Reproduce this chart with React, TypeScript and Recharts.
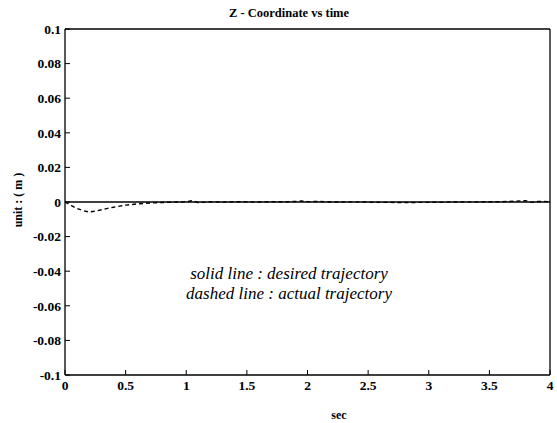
import React from 'react';
import { LineChart, Line, XAxis, YAxis } from 'recharts';

const times = [0, 0.05, 0.1, 0.15, 0.2, 0.25, 0.3, 0.35, 0.4, 0.45, 0.5, 0.6, 0.7, 0.8, 0.9, 1.0, 1.05, 1.1, 1.2, 1.3, 1.4, 1.5, 1.6, 1.7, 1.8, 1.9, 1.95, 2.0, 2.1, 2.2, 2.4, 2.6, 2.8, 3.0, 3.2, 3.4, 3.6, 3.7, 3.8, 3.85, 3.9, 4.0];
const desired = [0, 0, 0, 0, 0, 0, 0, 0, 0, 0, 0, 0, 0, 0, 0, 0, 0, 0, 0, 0, 0, 0, 0, 0, 0, 0, 0, 0, 0, 0, 0, 0, 0, 0, 0, 0, 0, 0, 0, 0, 0, 0];
const actual = [0, -0.002, -0.0038, -0.005, -0.0058, -0.0053, -0.0045, -0.0037, -0.003, -0.0024, -0.0018, -0.0011, -0.0006, -0.0003, -0.0001, 0.0001, 0.0008, -0.0004, 0.0002, -0.0001, 0.0002, 0.0001, 0.0, 0.0002, 0.0001, 0.0003, 0.0006, 0.0002, 0.0003, 0.0, 0.0001, -0.0002, -0.0003, -0.0002, 0.0, 0.0001, 0.0002, 0.0004, 0.0008, -0.0002, 0.0003, 0.0002];

const xTicks = [0, 0.5, 1, 1.5, 2, 2.5, 3, 3.5, 4];
const yTicks = [-0.1, -0.08, -0.06, -0.04, -0.02, 0, 0.02, 0.04, 0.06, 0.08, 0.1];

const title = 'Z - Coordinate vs time';
const xLabel = 'sec';
const yLabel = 'unit : ( m )';
const note1 = 'solid line : desired trajectory';
const note2 = 'dashed line : actual trajectory';

const data = times.map((t, i) => ({ t, desired: desired[i], actual: actual[i] }));

const FONT = 'Liberation Serif, Times New Roman, Times, serif';
const tickStyle = { fontFamily: FONT, fontSize: 13.5, fontWeight: 700, fill: '#000' };

export default function App() {
  return (
    <div style={{ position: 'absolute', left: 0, top: 0, width: 557, height: 423, background: '#fff', fontFamily: FONT }}>
      <LineChart width={557} height={423} data={data} margin={{ top: 28, right: 6, bottom: 0, left: 0 }} style={{ fontFamily: FONT }}>
        <XAxis
          xAxisId="b"
          dataKey="t"
          type="number"
          domain={[0, 4]}
          ticks={xTicks}
          height={48}
          tickSize={-5}
          tickMargin={10}
          tick={tickStyle}
          axisLine={{ stroke: '#000', strokeWidth: 1.3 }}
          tickLine={{ stroke: '#000' }}
          allowDataOverflow
        />
        <XAxis
          xAxisId="t"
          orientation="top"
          dataKey="t"
          type="number"
          domain={[0, 4]}
          ticks={xTicks}
          height={1}
          tickSize={-5}
          tick={false}
          axisLine={{ stroke: '#000', strokeWidth: 1.3 }}
          tickLine={{ stroke: '#000' }}
        />
        <YAxis
          yAxisId="l"
          type="number"
          domain={[-0.1, 0.1]}
          ticks={yTicks}
          width={65}
          tickSize={-5}
          tickMargin={9}
          tick={tickStyle}
          axisLine={{ stroke: '#000', strokeWidth: 1.3 }}
          tickLine={{ stroke: '#000' }}
          allowDataOverflow
        />
        <YAxis
          yAxisId="r"
          orientation="right"
          type="number"
          domain={[-0.1, 0.1]}
          ticks={yTicks}
          width={1}
          tickSize={-5}
          tick={false}
          axisLine={{ stroke: '#000', strokeWidth: 1.3 }}
          tickLine={{ stroke: '#000' }}
        />
        <Line xAxisId="b" yAxisId="l" type="linear" dataKey="desired" stroke="#000" strokeWidth={1.6} dot={false} isAnimationActive={false} />
        <Line xAxisId="b" yAxisId="l" type="linear" dataKey="actual" stroke="#000" strokeWidth={1.4} strokeDasharray="4 3" dot={false} isAnimationActive={false} />
      </LineChart>
      <svg width={557} height={423} style={{ position: 'absolute', left: 0, top: 0, pointerEvents: 'none' }} fontFamily={FONT}>
        <text x={289} y={17} textAnchor="middle" fontFamily={FONT} fontSize={12.5} fontWeight={700}>{title}</text>
        <text x={339} y={419} textAnchor="middle" fontFamily={FONT} fontSize={12} fontWeight={700}>{xLabel}</text>
        <text x={22} y={200} textAnchor="middle" transform="rotate(-90 22 200)" fontFamily={FONT} fontSize={12} fontWeight={700}>{yLabel}</text>
        <text x={289} y={279} textAnchor="middle" fontFamily={FONT} fontSize={17} fontStyle="italic">{note1}</text>
        <text x={289} y={299} textAnchor="middle" fontFamily={FONT} fontSize={17} fontStyle="italic">{note2}</text>
      </svg>
    </div>
  );
}
